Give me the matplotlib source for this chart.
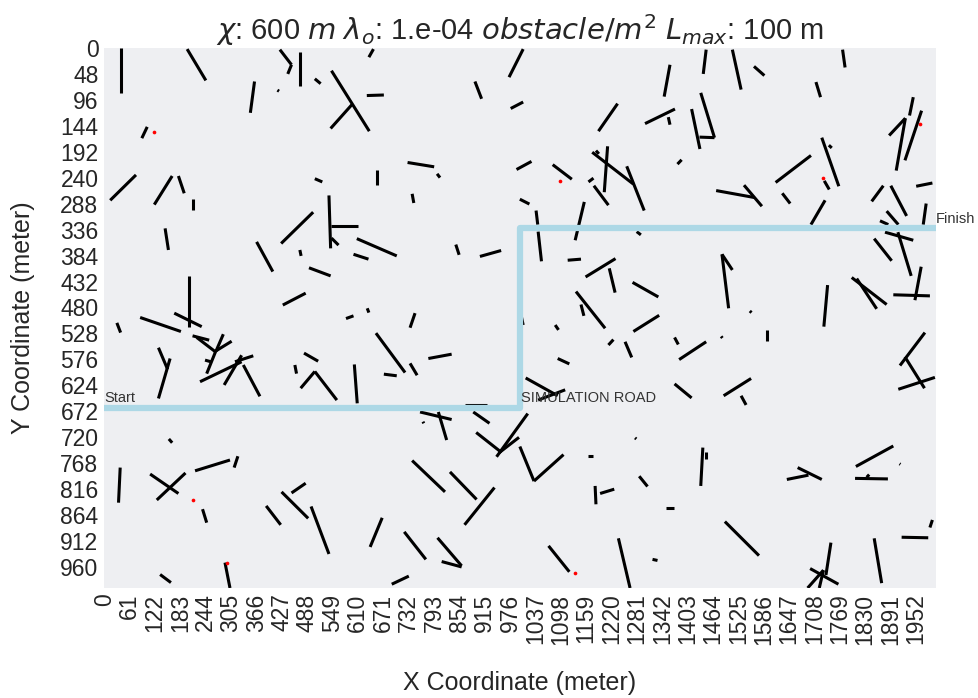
import matplotlib
matplotlib.use("Agg")
import matplotlib.pyplot as plt
import seaborn as sns

sns.set_theme(context="talk", style="dark")
plt.rcParams['font.family'] = ['Liberation Sans', 'DejaVu Sans']

# field size (meter)
field_w = 2000
field_h = 1000

# tick labels
xtick_labels = [0, 61, 122, 183, 244, 305, 366, 427, 488, 549, 610, 671, 732, 793, 854,
                915, 976, 1037, 1098, 1159, 1220, 1281, 1342, 1403, 1464, 1525, 1586,
                1647, 1708, 1769, 1830, 1891, 1952]
ytick_labels = [0, 48, 96, 144, 192, 240, 288, 336, 384, 432, 480, 528, 576, 624, 672,
                720, 768, 816, 864, 912, 960]

# road polyline
road_x = [0, 1000, 1000, 2000]
road_y = [666.7, 666.7, 333.3, 333.3]

# obstacles as (x1, y1, x2, y2)
obstacles_top = [
    (41, 0, 41, 83), (200, 2, 245, 60), (423, 3, 451, 31), (451, 31, 442, 48),
    (472, 7, 472, 70), (417, 78, 421, 80), (362, 62, 352, 120), (104, 146, 91, 167),
    (77, 235, 15, 282), (164, 237, 121, 290), (179, 237, 193, 269), (215, 280, 215, 300),
    (503, 304, 426, 362),
    (648, 2, 637, 17), (507, 57, 521, 66), (547, 42, 638, 154), (545, 149, 596, 105),
    (632, 88, 673, 87), (892, 62, 908, 94), (1008, 2, 974, 54), (978, 112, 1008, 100),
    (507, 242, 525, 248), (657, 225, 657, 254), (730, 212, 794, 220), (801, 233, 808, 240),
    (741, 270, 745, 287), (541, 273, 545, 371), (545, 330, 610, 330), (547, 352, 564, 365),
    (1361, 31, 1347, 90), (1448, 3, 1441, 48), (1235, 103, 1189, 154), (1373, 113, 1301, 140),
    (1357, 128, 1361, 142), (1435, 83, 1468, 166), (1413, 113, 1433, 187), (1432, 165, 1468, 166),
    (1379, 215, 1389, 207), (1174, 193, 1273, 252), (1257, 219, 1299, 301), (1211, 182, 1203, 267),
    (1183, 190, 1190, 196), (1165, 248, 1177, 241), (1178, 255, 1213, 291), (1028, 210, 992, 225),
    (1079, 216, 1125, 243), (1000, 280, 1023, 289), (1039, 301, 1043, 327), (1155, 285, 1133, 356),
    (1511, 3, 1532, 77), (1563, 34, 1588, 51), (1776, 3, 1782, 36), (1712, 63, 1723, 91),
    (1946, 91, 1937, 125), (1966, 116, 1926, 208), (1927, 130, 1888, 162), (1927, 130, 1905, 227),
    (1726, 166, 1767, 256), (1743, 180, 1750, 185), (1700, 199, 1615, 249), (1732, 246, 1744, 262),
    (1631, 269, 1650, 288), (1734, 282, 1700, 327), (1472, 264, 1565, 277), (1539, 254, 1582, 293),
    (1874, 255, 1846, 284), (1892, 255, 1930, 311), (1953, 256, 1992, 250), (1977, 288, 1970, 327),
    (1882, 302, 1910, 327), (1866, 320, 1886, 327),
]

obstacles_mid = [
    (1878, 341, 1946, 356), (1909, 341, 1941, 422), (1852, 353, 1894, 394),
    (1486, 382, 1502, 482), (1486, 382, 1511, 411), (1553, 487, 1557, 490), (1595, 522, 1595, 543),
    (1740, 439, 1731, 516), (1556, 612, 1490, 644), (1532, 644, 1544, 661), (1965, 405, 1950, 467),
    (1898, 457, 1986, 459), (1798, 425, 1882, 475), (1810, 427, 1858, 483), (1974, 527, 1914, 588),
    (1926, 572, 1973, 630), (1910, 632, 1998, 610),
    (1044, 340, 1052, 395), (1281, 340, 1291, 346), (1115, 393, 1147, 391), (1158, 424, 1230, 390),
    (1215, 408, 1229, 453), (1271, 434, 1333, 461), (1135, 451, 1205, 519), (1147, 475, 1154, 496),
    (1003, 495, 1008, 513), (1085, 513, 1093, 522), (1335, 495, 1273, 525), (1225, 540, 1213, 550),
    (1253, 544, 1269, 573), (1372, 536, 1381, 549), (1484, 534, 1487, 537), (1448, 544, 1383, 577),
    (1091, 575, 1119, 585), (1372, 622, 1413, 648), (1014, 611, 1091, 644), (1044, 652, 1109, 633),
    (608, 353, 704, 385), (600, 382, 636, 391), (493, 407, 545, 422), (846, 364, 854, 383),
    (904, 386, 955, 375), (582, 501, 600, 496), (633, 482, 637, 490), (748, 491, 736, 518),
    (654, 528, 724, 601), (736, 584, 753, 606), (780, 575, 836, 567), (673, 604, 704, 607),
    (602, 586, 609, 658), (481, 565, 515, 580), (507, 599, 560, 652), (507, 599, 473, 630),
    (868, 662, 920, 662),
    (147, 334, 155, 374), (471, 374, 474, 385), (367, 359, 406, 414), (485, 454, 430, 476),
    (205, 422, 205, 516), (87, 499, 185, 525), (169, 491, 235, 516), (31, 509, 40, 527),
    (213, 533, 253, 541), (223, 536, 267, 562), (287, 530, 269, 562), (307, 543, 269, 561),
    (269, 561, 247, 603), (243, 578, 257, 581), (231, 618, 331, 581), (289, 624, 331, 569),
    (315, 581, 359, 570), (335, 587, 375, 645), (131, 555, 153, 595), (159, 575, 131, 649),
    (459, 587, 463, 603),
]

obstacles_low = [
    (156, 724, 164, 731), (39, 777, 35, 842), (111, 789, 179, 825), (196, 787, 127, 837),
    (219, 783, 303, 763), (322, 756, 313, 777), (237, 854, 247, 879), (390, 848, 425, 883),
    (427, 822, 491, 871), (451, 824, 485, 806), (291, 953, 303, 1000), (135, 975, 161, 990),
    (760, 674, 836, 688), (804, 674, 824, 726), (767, 692, 769, 695), (888, 674, 927, 695),
    (895, 712, 956, 749), (1019, 677, 944, 757), (998, 721, 951, 749), (741, 764, 820, 822),
    (832, 785, 896, 836), (939, 814, 867, 883), (498, 849, 541, 937), (669, 870, 640, 924),
    (722, 896, 774, 947), (802, 907, 860, 959), (812, 951, 860, 961), (733, 978, 692, 993),
    (1000, 738, 1034, 802), (1034, 802, 1105, 753), (1165, 756, 1177, 756), (1277, 722, 1280, 724),
    (1287, 793, 1307, 812), (1181, 811, 1183, 845), (1193, 825, 1227, 817), (1351, 852, 1371, 852),
    (1440, 740, 1435, 811), (1447, 748, 1447, 762), (1493, 877, 1575, 940), (1069, 922, 1119, 970),
    (1237, 908, 1265, 1000), (1319, 947, 1331, 949),
    (1668, 777, 1726, 799), (1642, 799, 1694, 791), (1808, 775, 1898, 737), (1806, 797, 1885, 798),
    (1834, 795, 1840, 790), (1913, 770, 1915, 771), (1992, 874, 1986, 888), (1918, 906, 1982, 907),
    (1852, 908, 1870, 991), (1748, 916, 1736, 976), (1698, 964, 1766, 993), (1730, 967, 1692, 1000),
    (1730, 967, 1720, 1000),
]

# red points
dot_x = [121, 1097, 1728, 1961, 213, 297, 1133]
dot_y = [155, 246, 241, 140, 837, 954, 973]

fig = plt.figure(figsize=(9.79, 6.98), dpi=100)
ax = fig.add_axes([0.1062, 0.1576, 0.8496, 0.7736])
ax.set_facecolor('#EEEFF2')
for s in ax.spines.values():
    s.set_visible(False)

for seg in obstacles_top + obstacles_mid + obstacles_low:
    ax.plot([seg[0], seg[2]], [seg[1], seg[3]], color='black', lw=2.2,
            solid_capstyle='butt', zorder=2)

ax.plot(road_x, road_y, color='lightblue', lw=4.5, zorder=3)
ax.scatter(dot_x, dot_y, s=7, color='red', zorder=4, linewidths=0)

ax.text(0, 662, 'Start', fontsize=10.5, color='#333333', va='bottom', ha='left', zorder=5)
ax.text(1003, 662, 'SIMULATION ROAD', fontsize=10.5, color='#333333', va='bottom', ha='left', zorder=5)
ax.text(2000, 329, 'Finish', fontsize=10.5, color='#333333', va='bottom', ha='left',
        zorder=5, clip_on=False)

ax.set_xlim(0, field_w)
ax.set_ylim(field_h, 0)
ax.set_xticks([v + 0.5 for v in xtick_labels])
ax.set_xticklabels(xtick_labels, rotation=90)
ax.set_yticks([v + 0.5 for v in ytick_labels])
ax.set_yticklabels(ytick_labels)
ax.tick_params(length=0, labelsize=16.5, pad=4)
ax.grid(False)

ax.set_xlabel('X Coordinate (meter)', fontsize=18, va='center')
ax.set_ylabel('Y Coordinate (meter)', fontsize=18, va='center')
ax.xaxis.set_label_coords(0.5, -0.176)
ax.yaxis.set_label_coords(-0.097, 0.5)
ax.set_title(r'$\chi$: 600 $m$ $\lambda_o$: 1.e-04 $obstacle/m^2$ $L_{max}$: 100 m', fontsize=21)

fig.savefig('out.png', dpi=100)
